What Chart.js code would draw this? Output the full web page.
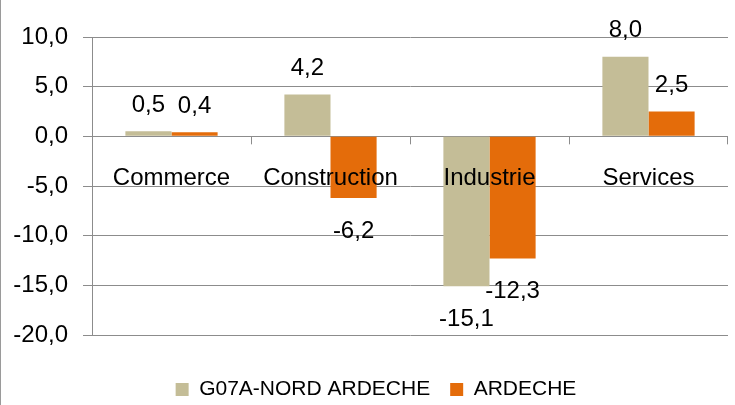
<!DOCTYPE html>
<html>
<head>
<meta charset="utf-8">
<script src="https://cdn.jsdelivr.net/npm/chart.js@4/dist/chart.umd.min.js"></script>
<style>
  html, body { margin: 0; padding: 0; background: #fff; }
  #wrap { width: 735px; height: 405px; }
</style>
</head>
<body>
<div id="wrap"><canvas id="chartCanvas" width="735" height="405"></canvas></div>
<script>
const categories = ['Commerce', 'Construction', 'Industrie', 'Services'];
const nordArdeche = [0.5, 4.2, -15.1, 8.0];
const ardeche = [0.4, -6.2, -12.3, 2.5];
const seriesNames = ['G07A-NORD ARDECHE', 'ARDECHE'];

const FONT = "'Liberation Sans', Arial, sans-serif";
const fmt = v => v.toFixed(1).replace('.', ',');

Chart.defaults.font.family = FONT;
Chart.defaults.color = '#000';

const extras = {
  id: 'extras',
  afterLayout(chart) {
    // legend sits a bit right of centre and close to the bottom edge
    chart.legend.left += 12;
    chart.legend.right += 12;
    chart.legend.top += 5;
    chart.legend.bottom += 5;
  },
  afterDatasetsDraw(chart) {
    const ctx = chart.ctx;
    const x = chart.scales.x;
    const y = chart.scales.y;
    const zero = y.getPixelForValue(0);
    ctx.save();

    // small separators on the zero line
    ctx.strokeStyle = '#8c8c8c';
    ctx.lineWidth = 1;
    for (let i = 1; i < categories.length; i++) {
      const px = Math.round((x.getPixelForValue(i - 1) + x.getPixelForValue(i)) / 2) + 0.5;
      ctx.beginPath();
      ctx.moveTo(px, zero);
      ctx.lineTo(px, zero + 8);
      ctx.stroke();
    }
    const right = Math.round(chart.chartArea.right) - 0.5;
    ctx.beginPath();
    ctx.moveTo(right, zero);
    ctx.lineTo(right, zero + 8);
    ctx.stroke();

    // outer left border
    ctx.strokeStyle = '#9a9a9a';
    ctx.beginPath();
    ctx.moveTo(0.5, 0);
    ctx.lineTo(0.5, chart.height);
    ctx.stroke();

    // category labels just under zero
    ctx.fillStyle = '#000';
    ctx.font = '24px ' + FONT;
    ctx.textAlign = 'center';
    ctx.textBaseline = 'middle';
    categories.forEach((c, i) => {
      ctx.fillText(c, x.getPixelForValue(i), zero + 42);
    });

    // value labels
    chart.data.datasets.forEach((ds, di) => {
      const meta = chart.getDatasetMeta(di);
      meta.data.forEach((bar, i) => {
        const v = ds.data[i];
        const ly = v >= 0 ? bar.y - 26 : bar.y + 33;
        ctx.fillText(fmt(v), bar.x, ly);
      });
    });
    ctx.restore();
  }
};

new Chart(document.getElementById('chartCanvas'), {
  type: 'bar',
  data: {
    labels: categories,
    datasets: [
      { label: seriesNames[0], data: nordArdeche, backgroundColor: '#C4BD97' },
      { label: seriesNames[1], data: ardeche, backgroundColor: '#E46C0A' }
    ]
  },
  options: {
    responsive: false,
    animation: false,
    layout: { padding: { top: 37, right: 7, left: 0, bottom: 0 } },
    datasets: { bar: { categoryPercentage: 0.58, barPercentage: 1 } },
    scales: {
      x: {
        grid: { display: false, drawTicks: false },
        border: { display: false },
        ticks: { display: false },
        afterFit(scale) { scale.height = 19; }
      },
      y: {
        min: -20,
        max: 10,
        ticks: {
          stepSize: 5,
          padding: 15,
          font: { size: 24 },
          color: '#000',
          callback: v => fmt(v)
        },
        grid: { color: '#8c8c8c', tickLength: 9, lineWidth: 1 },
        border: { color: '#8c8c8c' },
        afterFit(scale) { scale.width = 92; }
      }
    },
    plugins: {
      tooltip: { enabled: false },
      legend: {
        position: 'bottom',
        labels: {
          font: { size: 21 },
          color: '#000',
          boxWidth: 13,
          boxHeight: 13,
          padding: 20
        }
      }
    }
  },
  plugins: [extras]
});
</script>
</body>
</html>
